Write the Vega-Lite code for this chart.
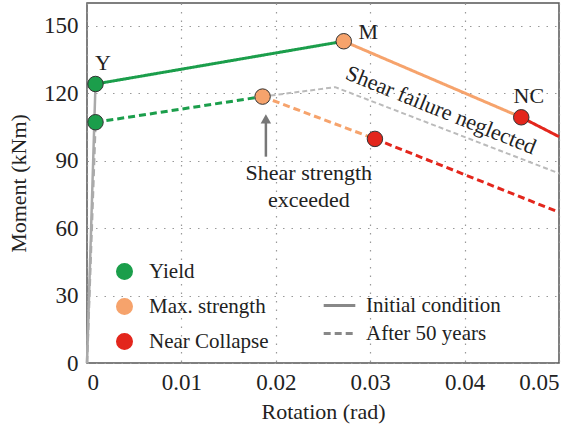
{
  "$schema": "https://vega.github.io/schema/vega-lite/v6.json",
  "width": 472,
  "height": 360,
  "autosize": {"type": "none"},
  "padding": {"left": 87, "top": 3, "right": 29, "bottom": 68},
  "background": "white",
  "config": {
    "font": "Liberation Serif",
    "view": {"stroke": "#555", "strokeWidth": 1.5},
    "axis": {
      "grid": true, "gridColor": "#999", "gridDash": [1.5, 7], "gridWidth": 1.2,
      "domain": false, "ticks": false
    }
  },
  "datasets": {
    "lines": [
      {"seg": "el_init", "stage": "elastic", "cond": "Initial condition", "x": 0, "y": 0},
      {"seg": "el_init", "stage": "elastic", "cond": "Initial condition", "x": 0.0009, "y": 124},
      {"seg": "el_after", "stage": "elastic", "cond": "After 50 years", "x": 0, "y": 0},
      {"seg": "el_after", "stage": "elastic", "cond": "After 50 years", "x": 0.0009, "y": 107},
      {"seg": "g_init", "stage": "Yield", "cond": "Initial condition", "x": 0.0009, "y": 124},
      {"seg": "g_init", "stage": "Yield", "cond": "Initial condition", "x": 0.0272, "y": 143},
      {"seg": "o_init", "stage": "Max. strength", "cond": "Initial condition", "x": 0.0272, "y": 143},
      {"seg": "o_init", "stage": "Max. strength", "cond": "Initial condition", "x": 0.046, "y": 109.2},
      {"seg": "r_init", "stage": "Near Collapse", "cond": "Initial condition", "x": 0.046, "y": 109.2},
      {"seg": "r_init", "stage": "Near Collapse", "cond": "Initial condition", "x": 0.05, "y": 100.6},
      {"seg": "g_after", "stage": "Yield", "cond": "After 50 years", "x": 0.0009, "y": 107},
      {"seg": "g_after", "stage": "Yield", "cond": "After 50 years", "x": 0.0186, "y": 118.4},
      {"seg": "o_after", "stage": "Max. strength", "cond": "After 50 years", "x": 0.0186, "y": 118.4},
      {"seg": "o_after", "stage": "Max. strength", "cond": "After 50 years", "x": 0.0305, "y": 99.6},
      {"seg": "r_after", "stage": "Near Collapse", "cond": "After 50 years", "x": 0.0305, "y": 99.6},
      {"seg": "r_after", "stage": "Near Collapse", "cond": "After 50 years", "x": 0.05, "y": 67},
      {"seg": "neglect", "stage": "neglect", "cond": "After 50 years", "x": 0.0186, "y": 118.4},
      {"seg": "neglect", "stage": "neglect", "cond": "After 50 years", "x": 0.0263, "y": 122.6},
      {"seg": "neglect", "stage": "neglect", "cond": "After 50 years", "x": 0.05, "y": 84.3}
    ],
    "points": [
      {"stage": "Yield", "x": 0.0009, "y": 124},
      {"stage": "Yield", "x": 0.0009, "y": 107},
      {"stage": "Max. strength", "x": 0.0272, "y": 143},
      {"stage": "Max. strength", "x": 0.0186, "y": 118.4},
      {"stage": "Near Collapse", "x": 0.046, "y": 109.2},
      {"stage": "Near Collapse", "x": 0.0305, "y": 99.6}
    ],
    "labels": [
      {"label": "Y", "x": 0.0017, "y": 133.5},
      {"label": "M", "x": 0.0298, "y": 147},
      {"label": "NC", "x": 0.0468, "y": 118.5},
      {"label": "Shear strength", "x": 0.0235, "y": 84.4},
      {"label": "exceeded", "x": 0.0235, "y": 72.6}
    ],
    "rotated": [
      {"label": "Shear failure neglected", "x": 0.0375, "y": 112.4}
    ],
    "arrow": [
      {"x": 0.01895, "y": 91.7, "y2": 108.5}
    ]
  },
  "encoding": {
    "x": {"field": "x", "type": "quantitative", "scale": {"domain": [0, 0.05], "nice": false},
          "axis": {"values": [0, 0.01, 0.02, 0.03, 0.04, 0.05], "format": ".2~f", "title": "Rotation (rad)",
                   "labelFont": "Liberation Serif", "titleFont": "Liberation Serif", "labelFontSize": 23, "titleFontSize": 22,
                   "titleFontWeight": "normal", "labelColor": "#222222", "titleColor": "#222222",
                   "labelPadding": 8, "titlePadding": 7}},
    "y": {"field": "y", "type": "quantitative", "scale": {"domain": [0, 160], "nice": false},
          "axis": {"values": [0, 30, 60, 90, 120, 150], "title": "Moment (kNm)",
                   "labelFont": "Liberation Serif", "titleFont": "Liberation Serif", "labelFontSize": 23, "titleFontSize": 22,
                   "titleFontWeight": "normal", "labelColor": "#222222", "titleColor": "#222222",
                   "labelPadding": 9, "titlePadding": 13}}
  },
  "layer": [
    {
      "data": {"name": "lines"},
      "transform": [{"filter": "datum.stage === 'neglect'"}],
      "mark": {"type": "line", "color": "#bbbbbb", "strokeWidth": 2, "strokeDash": [5, 3]},
      "encoding": {"detail": {"field": "seg"}}
    },
    {
      "data": {"name": "lines"},
      "transform": [{"filter": "datum.stage === 'elastic'"}],
      "mark": {"type": "line", "color": "#aaaaaa", "strokeWidth": 2.5},
      "encoding": {
        "detail": {"field": "seg"},
        "strokeDash": {"field": "cond", "type": "nominal",
          "scale": {"domain": ["Initial condition", "After 50 years"], "range": [[1, 0], [7, 4]]},
          "legend": {"orient": "none", "legendX": 235, "legendY": 285, "title": null, "symbolType": "stroke", "symbolSize": 1000,
                     "symbolStrokeColor": "#888888", "symbolStrokeWidth": 3, "labelOffset": 9, "rowPadding": 0, "padding": 0,
                     "labelFont": "Liberation Serif", "labelFontSize": 21, "labelColor": "#222222"}}
      }
    },
    {
      "data": {"name": "lines"},
      "transform": [{"filter": "datum.stage !== 'elastic' && datum.stage !== 'neglect'"}],
      "mark": {"type": "line", "strokeWidth": 3},
      "encoding": {
        "detail": {"field": "seg"},
        "color": {"field": "stage", "type": "nominal",
          "scale": {"domain": ["Yield", "Max. strength", "Near Collapse"], "range": ["#1b9e4b", "#f6a36c", "#e3261c"]}},
        "strokeDash": {"field": "cond", "type": "nominal"}
      }
    },
    {
      "data": {"name": "arrow"},
      "mark": {"type": "rule", "color": "#777777", "strokeWidth": 2.5},
      "encoding": {"y2": {"field": "y2"}}
    },
    {
      "data": {"name": "arrow"},
      "mark": {"type": "point", "shape": "triangle-up", "filled": true, "color": "#777777", "size": 110, "opacity": 1},
      "encoding": {"y": {"field": "y2", "type": "quantitative"}}
    },
    {
      "data": {"name": "points"},
      "mark": {"type": "point", "shape": "circle", "filled": true, "size": 240, "stroke": "#333333", "strokeWidth": 1, "opacity": 1},
      "encoding": {
        "color": {"field": "stage", "type": "nominal",
          "legend": {"orient": "none", "legendX": 27, "legendY": 258, "title": null, "symbolType": "circle", "symbolSize": 240,
                     "symbolOpacity": 1, "labelOffset": 14, "rowPadding": 12, "padding": 0,
                     "labelFont": "Liberation Serif", "labelFontSize": 21, "labelColor": "#222222",
                     "encode": {"symbols": {"update": {"stroke": {"value": "#333333"}, "strokeWidth": {"value": 1}}}}}}
      }
    },
    {
      "data": {"name": "labels"},
      "mark": {"type": "text", "fontSize": 22, "color": "#222222", "font": "Liberation Serif"},
      "encoding": {"text": {"field": "label"}}
    },
    {
      "data": {"name": "rotated"},
      "mark": {"type": "text", "fontSize": 22, "color": "#222222", "font": "Liberation Serif", "angle": 22},
      "encoding": {"text": {"field": "label"}}
    }
  ]
}
